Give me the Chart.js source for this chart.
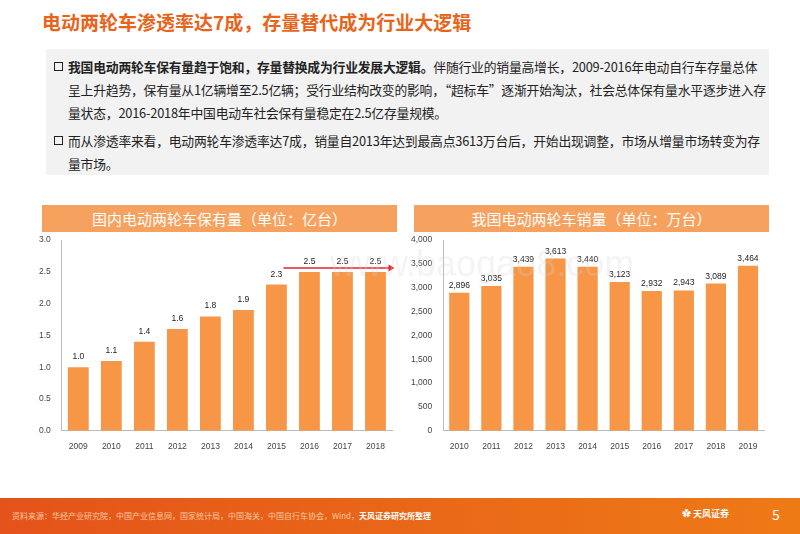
<!DOCTYPE html>
<html>
<head>
<meta charset="utf-8">
<script src="https://cdn.jsdelivr.net/npm/chart.js@4"></script>
<style>
  body { margin:0; width:800px; height:534px; position:relative; background:#fff; font-family:"Noto Sans CJK SC","Noto Sans",sans-serif; overflow:hidden; }
  .title { position:absolute; left:42px; top:8px; font-size:19px; font-weight:bold; color:#E8641B; }
  .p { position:absolute; left:68px; width:700px; font-size:12.8px; line-height:23px; color:#222; letter-spacing:-0.2px; }
  .p .sq { position:absolute; left:-14px; top:7px; width:7px; height:7px; border:1.5px solid #222; }
  .hdr { position:absolute; top:205px; height:27px; background:#F7A15E; color:#fff; font-size:15px; text-align:center; line-height:27px; }
  .wrap { position:absolute; top:232px; height:225px; }
  .footer { position:absolute; left:0; top:498px; width:800px; height:36px; background:linear-gradient(90deg,#E4531A,#EE7A16); }
  .src { position:absolute; left:12px; top:12px; font-size:8px; color:#FBC7A0; }
  .src b { color:#fff; font-weight:bold; }
  .logo { position:absolute; left:682px; top:9px; color:#fff; font-size:9px; font-weight:bold; }
  .pg { position:absolute; left:772px; top:6px; color:#fff; font-size:14px; }
  .wm { position:absolute; left:330px; top:243px; font-size:36px; color:rgba(210,210,210,0.25); font-family:"Liberation Sans",sans-serif; }
</style>
</head>
<body>
<div class="title">电动两轮车渗透率达7成，存量替代成为行业大逻辑</div>
<div style="position:absolute;left:46px;top:49px;width:723px;height:126px;background:#F2F2F2"></div>
<div class="p" style="top:55px"><span class="sq"></span><b>我国电动两轮车保有量趋于饱和，存量替换成为行业发展大逻辑。</b>伴随行业的销量高增长，2009-2016年电动自行车存量总体呈上升趋势，保有量从1亿辆增至2.5亿辆；受行业结构改变的影响，“超标车”逐渐开始淘汰，社会总体保有量水平逐步进入存量状态，2016-2018年中国电动车社会保有量稳定在2.5亿存量规模。</div>
<div class="p" style="top:129px"><span class="sq"></span>而从渗透率来看，电动两轮车渗透率达7成，销量自2013年达到最高点3613万台后，开始出现调整，市场从增量市场转变为存量市场。</div>

<div class="hdr" style="left:42px;width:355px">国内电动两轮车保有量（单位：亿台）</div>
<div class="hdr" style="left:414px;width:355px">我国电动两轮车销量（单位：万台）</div>
<div class="wrap" style="left:36px;width:362px"><canvas id="c1"></canvas></div>
<div class="wrap" style="left:408px;width:362px"><canvas id="c2"></canvas></div>
<div class="wm">www.baogao8.com</div>

<div class="footer">
  <div class="src">资料来源：华经产业研究院，中国产业信息网，国家统计局，中国海关，中国自行车协会，Wind，<b>天风证券研究所整理</b></div>
  <div class="logo">✿ 天风证券</div>
  <div class="pg">5</div>
</div>

<script>
const stockYears = ['2009','2010','2011','2012','2013','2014','2015','2016','2017','2018'];
const stockValues = [1.0, 1.1, 1.4, 1.6, 1.8, 1.9, 2.3, 2.5, 2.5, 2.5];
const salesYears = ['2010','2011','2012','2013','2014','2015','2016','2017','2018','2019'];
const salesValues = [2896, 3035, 3439, 3613, 3440, 3123, 2932, 2943, 3089, 3464];

const BAR = '#F79646';
const TICK = { font: { size: 8.5, family: 'Liberation Sans' }, color: '#444' };

const labelPlugin = {
    id: 'barLabels',
    afterDatasetsDraw(chart, args, opts) {
        const ctx = chart.ctx;
        const meta = chart.getDatasetMeta(0);
        ctx.save();
        ctx.font = '8.5px "Liberation Sans"';
        ctx.fillStyle = '#222';
        ctx.textAlign = 'center';
        meta.data.forEach((bar, i) => {
            ctx.fillText(opts.fmt(chart.data.datasets[0].data[i]), bar.x, bar.y - opts.gap);
        });
        ctx.restore();
    }
};

// red arrow running along the 2016-2018 plateau in the stock chart
const arrowPlugin = {
    id: 'arrow',
    afterDatasetsDraw(chart) {
        if (chart.canvas.id !== 'c1') return;
        const x = chart.scales.x, y = chart.scales.y;
        const x0 = x.getPixelForValue(6) + 7, x1 = x.getPixelForValue(9) + 19;
        const yy = y.getPixelForValue(2.5) - 4;
        const ctx = chart.ctx;
        ctx.save();
        ctx.strokeStyle = '#E8202A';
        ctx.fillStyle = '#E8202A';
        ctx.lineWidth = 1.5;
        ctx.beginPath(); ctx.moveTo(x0, yy); ctx.lineTo(x1 - 5, yy); ctx.stroke();
        ctx.beginPath(); ctx.moveTo(x1, yy); ctx.lineTo(x1 - 6, yy - 3.5); ctx.lineTo(x1 - 6, yy + 3.5); ctx.fill();
        ctx.restore();
    }
};

function makeChart(id, labels, values, max, step, tickFmt, valFmt, gap) {
    return new Chart(document.getElementById(id), {
        type: 'bar',
        data: { labels: labels, datasets: [{ data: values, backgroundColor: BAR, categoryPercentage: 0.9, barPercentage: 0.7 }] },
        options: {
            responsive: true,
            maintainAspectRatio: false,
            animation: false,
            layout: { padding: { top: 8, right: 6, bottom: 2 } },
            plugins: { legend: { display: false }, tooltip: { enabled: false }, barLabels: { fmt: valFmt, gap: gap } },
            scales: {
                x: { grid: { display: false }, border: { color: '#BBB' }, ticks: TICK },
                y: { min: 0, max: max, grid: { display: false }, border: { color: '#BBB' },
                     ticks: Object.assign({ stepSize: step, callback: tickFmt }, TICK) }
            }
        },
        plugins: [labelPlugin, arrowPlugin]
    });
}

makeChart('c1', stockYears, stockValues, 3, 0.5, v => v.toFixed(1), v => v.toFixed(1), 8);
makeChart('c2', salesYears, salesValues, 4000, 500, v => v.toLocaleString('en-US'), v => v.toLocaleString('en-US'), 5);
</script>
</body>
</html>
